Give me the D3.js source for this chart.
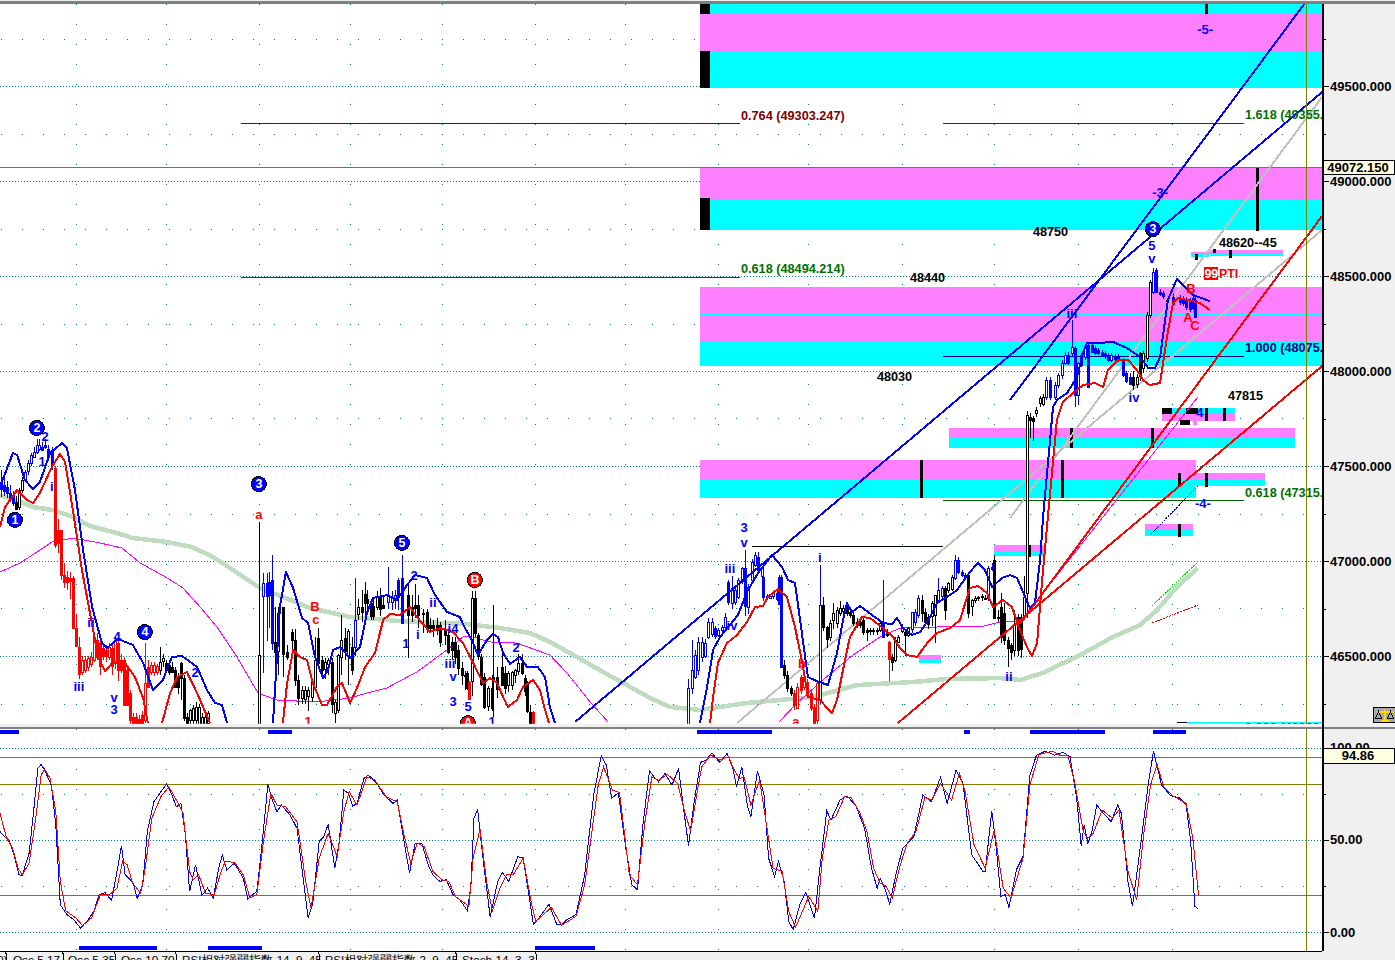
<!DOCTYPE html>
<html><head><meta charset="utf-8">
<script src="https://cdn.jsdelivr.net/npm/d3@7/dist/d3.min.js"></script>
<style>html,body{margin:0;padding:0;background:#f0f0f0;overflow:hidden}svg{display:block;shape-rendering:crispEdges}text{font-family:"Liberation Sans",Arial,sans-serif}</style>
</head><body><svg id="c" width="1395" height="960"></svg>
<script>
// ---------- data: [bar, price] overlays ----------
const upperBlue=[
[[0,47390],[4.3,47568],[5.7,47558],[8.3,47426],[11,47379],[13.3,47416],[16.7,47568],[20.7,47621],[22.3,47595],[25,47374],[27.7,47058],[30.7,46758],[34,46568],[35.7,46542],[39.3,46590],[44.3,46558],[47.7,46463],[51,46321],[54.3,46374],[57.3,46495],[60.7,46500],[65.7,46442],[69,46321],[71.7,46253],[74,46242],[75.7,46147]],
[[91,46147],[93.3,46758],[95.3,46942],[97.7,46858],[100.7,46700],[102.7,46674],[105,46495],[107.7,46384],[109.3,46426],[111,46532],[113.3,46547],[116.7,46490],[120,46547],[122.3,46726],[124.3,46805],[129,46821],[132.3,46795],[135.7,46874],[138.3,46926],[142.3,46911],[145,46821],[149,46732],[153.3,46705],[155,46647],[157.3,46584],[159.3,46505],[162.3,46584],[164.3,46616],[166,46600],[167.7,46516],[170,46458],[173.3,46495],[175.7,46442],[179.3,46442],[181.7,46389],[183.3,46232],[185,46147]],
[[233.3,46147],[235.7,46337],[237.7,46532],[240,46600],[243.3,46663],[246,46716],[249,46837],[252.7,46937],[257.3,47032],[260.7,46968],[262.7,46900],[265,46884],[267.3,46621],[269.3,46389],[272.3,46368],[276,46347],[279,46516],[281,46689],[282.3,46779],[284,46732],[286.7,46763],[289.3,46732],[294.3,46674],[297.3,46668],[299,46700],[301,46647],[304,46611],[306.7,46626],[310,46705],[312.3,46779],[315.7,46811],[319,46847],[323.3,46942],[326,46990],[328.3,46953],[330.7,46863],[334,46911],[336.7,46926],[339,46911],[341,46837],[343.3,46753],[345,46779],[346.7,47005],[347.7,47232],[351,47810],[352.3,47847],[355.7,47884],[359,47968],[361,48095],[362.3,48147],[365.7,48147],[371,48153],[375.7,48121],[380,48074],[382.7,48016],[385,48016],[386.7,48074],[389.3,48374],[392.3,48484],[394.3,48453],[397.7,48400],[403.3,48368]]
];
const lowerRed=[
[[0,47179],[1.7,47284],[5.7,47374],[9,47321],[11,47305],[13.3,47358],[17.3,47495],[20,47563],[21.7,47521],[24.3,47268],[27.3,46953],[30,46726],[32.7,46495],[35,46421],[37.7,46468],[41.7,46463],[45,46389],[47.7,46279],[49.3,46147]],
[[54,46147],[56.7,46305],[59,46389],[62.3,46416],[65.7,46305],[70,46147]],
[[94.3,46147],[95.7,46358],[97.7,46532],[100,46495],[102.3,46479],[104.3,46358],[107.3,46242],[109,46242],[112.3,46337],[114,46358],[116.7,46253],[119,46332],[121.7,46442],[125,46516],[127.7,46689],[130,46721],[133.3,46716],[136.7,46758],[139,46705],[143.3,46626],[146.7,46647],[151,46626],[154.3,46568],[157.3,46479],[159.3,46411],[161,46358],[163.3,46384],[165.7,46358],[167.7,46284],[169.3,46232],[172.3,46268],[174.3,46337],[177.7,46374],[180,46321],[181.7,46216],[183,46147]],
[[236.7,46147],[237.7,46284],[239.3,46463],[242.3,46568],[245.7,46611],[249,46679],[251.7,46758],[254.3,46763],[256,46811],[259.3,46853],[262.3,46811],[265,46653],[267.7,46442],[269.3,46284],[273.3,46268],[277.3,46200],[279,46268],[281,46426],[283.3,46600],[287.3,46705],[290,46700],[294.3,46647],[297.7,46600],[300,46542],[302.3,46505],[305.7,46495],[309.3,46574],[312.3,46621],[316.7,46647],[320,46689],[323.3,46858],[326,46868],[329,46832],[331,46758],[334.3,46795],[337.3,46758],[340,46637],[342.3,46547],[344,46500],[345.7,46568],[347.3,46884],[349.3,47232],[352.3,47742],[354.3,47837],[357.7,47884],[361,47926],[365,47937],[367.7,47916],[369.3,48005],[372.7,48058],[376,48058],[379,48005],[381,47953],[383.3,47926],[386.7,47937],[389,48179],[391,48358],[392.7,48384],[395.7,48374],[400,48358],[403.3,48321]]
];
const greenAverage=[[0,47347],[6.7,47311],[11,47284],[17.7,47268],[24.3,47232],[30,47184],[39,47147],[44.3,47121],[55.7,47100],[64,47074],[71,47021],[77.7,46953],[86.7,46858],[94.3,46811],[103.3,46753],[116.7,46705],[133.3,46684],[155.7,46668],[166.7,46647],[176.7,46621],[183.3,46574],[192.3,46495],[201,46416],[207.7,46358],[216.7,46279],[223.3,46232],[233.3,46216],[249,46253],[271,46284],[285.7,46347],[304.3,46363],[315.7,46379],[333.3,46384],[340,46374],[347.7,46411],[360,46505],[371,46600],[380,46663],[385.7,46742],[392.3,46863],[399.3,46963]];
const magentaAverage=[
[[0,46942],[6.7,46990],[12.3,47047],[17.3,47100],[24.3,47121],[33.3,47095],[40.7,47068],[46.7,46990],[55.7,46911],[61,46858],[66.7,46758],[72.3,46653],[79,46495],[86,46305],[92.3,46268],[105.7,46258],[116.7,46279],[122.3,46305],[129,46332],[139,46416],[149,46532],[154.3,46600],[156.7,46605],[163.3,46574],[172.3,46568],[183.3,46505],[189,46411],[196.7,46258],[202.7,46153]],
[[259.7,46153],[265.7,46253],[274.3,46374],[284.3,46505],[293.3,46600],[300,46647],[313.3,46653],[326.7,46653],[333.3,46679],[340,46679],[399.3,47863]]
];
// ---------- data: trend lines ----------
const blueTrends=[[[336.7,47847],[435,49937]],[[191.7,46153],[440.7,49468]]];
const redTrends=[[[299.3,46147],[440.7,48026]],[[340,46669],[440.7,48816]]];
const grayTrends=[[[336.7,47226],[440.7,49442]],[[245.7,46147],[440.7,48742]]];
const blackSegment=[[250.7,47074],[314.3,47074]];
const thinBlue=[[383.7,47142],[399.3,47395]];
const thinGreen=[[384,46763],[399.3,46995]];
const thinRed=[[384,46674],[399.3,46768]];
// ---------- data: candles [bar, open, high, low, close] ----------
const blackCandles=[
[5.5,47312,47340,47270,47277],[6.4,47283,47385,47270,47373],[7.3,47373,47440,47360,47426],
[53.4,46426,46550,46400,46470],[54.4,46470,46510,46440,46487],[55.4,46461,46480,46420,46426],[56.4,46452,46470,46400,46417],[57.4,46444,46470,46410,46417],[58.4,46426,46440,46330,46339],[59.4,46391,46410,46300,46339],[60.4,46461,46470,46270,46382],[61.4,46382,46400,46160,46172],[62.4,46180,46200,46120,46145],[63.4,46163,46220,46120,46215],[64.4,46163,46240,46120,46225],[65.4,46163,46260,46120,46233],[66.4,46145,46250,46120,46233],[67.4,46145,46200,46120,46180],[68.4,46145,46190,46120,46180],[69.4,46145,46210,46120,46198],
[86.4,46100,47207,46100,46505],[91.7,46575,46760,46420,46523],[92.8,46523,46760,46400,46724],[94.4,46760,46760,46390,46514],[95.6,46520,46560,46480,46495],[97.2,46628,46640,46500,46584],[98.3,46584,46640,46340,46374],[99.4,46374,46400,46240,46277],[100.6,46277,46340,46250,46320],[101.7,46270,46340,46250,46320],[102.8,46287,46335,46210,46320],[103.9,46285,46360,46260,46365],[105,46339,46600,46320,46479],[106.1,46593,46650,46440,46461],[107.2,46477,46500,46380,46426],[108.3,46435,46490,46380,46470],[109.4,46461,46490,46400,46480],[110.6,46470,46490,46200,46251],[111.7,46200,46270,46150,46260],[112.8,46216,46510,46200,46505],[113.6,46497,46715,46400,46584],[115,46593,46650,46480,46523],[116.1,46497,46640,46350,46630],
[117.2,46549,46600,46400,46426],[119.5,46725,46800,46690,46760],[120.6,46760,46850,46680,46733],[121.7,46825,46890,46700,46777],[122.5,46800,46850,46720,46780],[123.6,46777,46800,46690,46707],[124.5,46762,46800,46690,46707],[125.6,46760,46840,46740,46812],[126.7,46812,46860,46710,46751],[127.8,46768,46820,46750,46751],
[136.1,46821,46880,46490,46716],[137.3,46760,46820,46680,46716],[138.4,46768,46880,46700,46751],[139.5,46768,46820,46650,46716],[141.1,46725,46750,46620,46720],[142.3,46733,46750,46620,46646],[143.4,46663,46700,46620,46646],[144.5,46663,46690,46600,46646],[145.6,46663,46700,46610,46637],[146.7,46663,46680,46550,46575],[148.4,46640,46690,46560,46610],[149.5,46610,46640,46510,46523],[150.6,46575,46600,46480,46532],[151.7,46575,46600,46460,46497],[152.8,46532,46560,46400,46435],[153.9,46435,46470,46350,46400],[155,46400,46420,46320,46398],[155.8,46410,46420,46320,46330],
[157.5,46365,46840,46290,46804],[158.4,46804,46840,46600,46620],[159.5,46610,46620,46480,46497],[160.4,46497,46510,46340,46356],[161.5,46391,46410,46220,46233],[162.8,46233,46340,46210,46330],[163.9,46330,46400,46210,46225],[164.5,46390,46768,46180,46372],[165.6,46391,46440,46280,46330],[167.2,46444,46540,46340,46348],[168.3,46409,46450,46300,46330],[169.5,46348,46420,46310,46409],[170.6,46348,46420,46320,46418],[171.7,46400,46430,46360,46426],[172.8,46418,46510,46400,46461],[173.9,46461,46510,46400,46409],[175,46383,46400,46290,46313],[175.6,46356,46370,46200,46207],[176.7,46207,46240,46140,46146],
[261.5,46453,46480,46380,46400],[262.5,46400,46420,46310,46330],[263.6,46330,46340,46290,46304],
[274.5,46768,46810,46630,46654],[275.6,46654,46660,46540,46593],[276.7,46600,46690,46580,46672],[277.8,46691,46780,46640,46726],[278.9,46672,46760,46650,46742],[280,46725,46790,46710,46751],[281.1,46733,46770,46720,46751],[282.2,46751,46765,46710,46725],[283.4,46733,46745,46700,46716],[284.5,46716,46730,46660,46672],[285.6,46681,46700,46650,46663],[286.7,46681,46700,46650,46663],[287.8,46689,46700,46610,46628],[288.9,46637,46650,46580,46628],[290,46637,46650,46610,46630],[291.1,46637,46650,46610,46630],[292.2,46637,46650,46610,46630],[293.4,46637,46690,46625,46672],
[295.6,46628,46640,46600,46610],[297.5,46496,46510,46420,46470],[298.4,46479,46600,46470,46584],[299.5,46575,46610,46570,46602],[300.6,46628,46670,46620,46646],[301.7,46628,46640,46500,46610],[302.8,46610,46655,46600,46646],
[307.2,46795,46820,46680,46725],[308.4,46733,46745,46660,46681],[309.5,46707,46720,46640,46672],[310.6,46707,46790,46660,46777],[311.7,46716,46821,46567,46821],[315,46856,46870,46690,46742],[316.1,46847,46890,46830,46882],[317.2,46856,46925,46840,46917],[322.8,46926,46935,46700,46725],[323.9,46763,46800,46710,46795],[325,46795,46815,46780,46805],[326.1,46805,46815,46790,46810],[327.2,46810,46825,46790,46815],[328.3,46805,46820,46795,46805],[331.5,47005,47030,46698,46698],[332.6,46700,46740,46680,46707],[333.7,46760,46830,46570,46602],[334.8,46725,46780,46560,46584],[335.9,46584,46600,46440,46540],[337,46558,46570,46480,46523],[338.1,46531,46740,46500,46663],[339.2,46707,46720,46500,46531],[340.4,46707,46720,46490,46540],[341.5,46707,46920,46690,46812],
[342.2,46832,47790,46700,47769],[343.3,47760,47780,47650,47742],[344.4,47752,47765,47630,47735],[345.5,47778,47810,47760,47795],[346.6,47830,47870,47810,47856],[347.7,47830,47880,47815,47865],
[377.8,47970,48000,47900,47927],[378.9,47935,47985,47910,47970],[380,48093,48100,47950,47970],[381,48015,48105,47990,48093],[382.2,48067,48310,48050,48295],[383.3,48295,48480,48280,48470],[388.9,48374,48385,48360,48370]
];
const blueCandles=[
[0.5,47417,47480,47338,47382],[1.5,47400,47450,47340,47370],[2.5,47390,47420,47330,47360],[3.5,47360,47400,47310,47335],[4.5,47350,47370,47290,47310],
[8.2,47430,47480,47420,47470],[9.2,47470,47530,47455,47514],[10.2,47514,47570,47500,47558],[11.2,47550,47600,47540,47575],[12.2,47575,47640,47565,47610],[13.1,47590,47640,47580,47610],[14.1,47600,47625,47585,47585],[15.1,47610,47640,47590,47600],[16.1,47590,47610,47550,47555],[17.2,47585,47600,47480,47505],
[87.8,46812,46935,46409,46882],[88.9,46882,46935,46580,46812],[89.8,46890,46940,46650,46820],[90.6,46900,47030,46530,46567],
[118.4,46549,46910,46500,46690],[129.5,46786,46970,46750,46821],[130.6,46786,46840,46740,46812],[131.7,46795,46850,46750,46821],[132.8,46900,46910,46740,46812],[133.9,46909,47030,46672,46672],
[229.5,46058,46380,46058,46330],[230.6,46330,46584,46300,46426],[231.7,46391,46530,46380,46505],[232.8,46426,46600,46400,46575],[233.9,46497,46600,46470,46575],[235,46497,46590,46490,46567],[236.1,46602,46700,46590,46681],[237.2,46620,46700,46600,46681],[238.4,46645,46660,46590,46602],[239.5,46610,46650,46600,46637],[240.6,46637,46665,46620,46654],[241.7,46654,46725,46640,46707],[242.8,46891,46900,46770,46786],[243.9,46777,46920,46750,46856],[245,46786,46860,46770,46847],[246.1,46812,46910,46800,46900],[247.2,46891,46970,46880,46961],[248.4,46961,47060,46710,46760],[249.5,46760,46880,46720,46865],[250.6,46900,47010,46890,46996],[251.7,46979,47050,46970,47032],[252.8,47023,47050,46930,46953],[253.9,46917,46970,46900,46961],[254.5,46917,46925,46790,46812],[255.6,46810,46825,46800,46815],[256.7,46810,46825,46800,46818],[257.8,46815,46835,46800,46830],[258.9,46830,46840,46790,46800],[259.7,46917,46925,46770,46777],[260.4,46917,46925,46444,46444],
[273.4,46269,46980,46250,46768],[294.5,46681,46900,46595,46602],[303.9,46646,46665,46620,46733],[305,46680,46750,46660,46733],[306.1,46716,46820,46700,46804],[312.8,46795,46910,46780,46847],[313.9,46812,46870,46790,46856],[318.4,46909,47030,46900,47005],[319.5,47005,47020,46930,46944],[320.6,46944,46955,46915,46926],[321.7,46926,46935,46905,46916],[329.5,46804,46975,46790,46961],[330.6,46970,46990,46950,46961],
[348.8,47865,47970,47850,47953],[349.9,47953,47970,47850,47865],[351.6,47865,47940,47850,47927],[352.7,47927,47990,47910,47979],[353.9,47979,48060,47960,48041],[355,48041,48100,48030,48085],[356.1,48085,48100,48030,48041],[357.2,48094,48270,48080,48128],[358.3,48120,48130,47810,47874],[359.4,47874,48050,47820,48041],[360.5,48085,48095,48020,48032],[361.6,48075,48140,48060,48128],[362.7,48137,48150,47918,47918],[363.9,48137,48145,48095,48102],[365,48120,48130,48085,48094],[366.1,48111,48120,48085,48094],[367.2,48102,48110,48075,48085],[368.3,48094,48105,48065,48076],[369.4,48085,48095,48045,48058],[370.5,48058,48095,48050,48085],[371.6,48076,48090,48055,48067],[372.7,48076,48090,48050,48058],[374.4,48058,48070,47970,47979],[375.5,47988,48000,47935,47944],[376.6,47970,47990,47925,47935],
[384.4,48418,48540,48405,48523],[385.5,48532,48540,48410,48418],[386.6,48418,48430,48395,48405],[387.7,48410,48420,48380,48395],[391.1,48392,48410,48350,48356],[393.3,48385,48400,48350,48362],[394.4,48380,48395,48340,48360],[395.5,48375,48390,48320,48340],[396.6,48370,48385,48310,48330],[397.7,48383,48400,48320,48330],[398.5,48374,48390,48280,48286]
];
const redCandles=[
[18.3,47487,47500,47070,47084],[19.4,47163,47220,47040,47093],[20.4,47163,47165,46900,46926],[21.4,46926,46990,46860,46891],[22.4,46917,46950,46850,46891],[23.4,46909,46940,46800,46891],[24.4,46909,46920,46640,46645],[25.4,46645,46720,46545,46549],[26.4,46549,46600,46380,46409],[27.4,46417,46500,46400,46479],[28.4,46426,46500,46410,46479],[29.4,46440,46500,46420,46487],[30.4,46460,46520,46440,46497],[31.4,46479,46620,46470,46593],[32.4,46584,46620,46480,46496],[33.4,46567,46600,46400,46444],[34.4,46540,46570,46480,46497],[35.4,46530,46560,46470,46497],[36.4,46497,46570,46480,46549],[37.4,46540,46570,46400,46444],[38.4,46461,46600,46430,46584],[39.4,46567,46590,46370,46426],[40.4,46479,46510,46410,46426],[41.4,46479,46495,46240,46242],[42.4,46426,46440,46240,46242],[43.4,46303,46320,46120,46163],[44.4,46180,46200,46120,46145],[45.4,46180,46200,46120,46145],[46.4,46170,46190,46120,46145],[47.4,46190,46210,46120,46145],[48.4,46160,46567,46150,46356],[49.4,46444,46480,46330,46339],[50.4,46417,46470,46400,46452],[51.4,46417,46470,46395,46452],[52.4,46417,46460,46400,46450],
[156.5,46365,46370,46270,46275],[177.6,46207,46210,46140,46145],
[264.7,46304,46320,46215,46242],[265.8,46231,46360,46220,46339],[266.9,46391,46400,46300,46321],[268,46339,46400,46320,46391],[269.1,46365,46380,46280,46295],[270.2,46304,46320,46210,46225],[271.3,46233,46250,46130,46150],[272.5,46163,46370,46140,46356],[296.5,46575,46580,46370,46488]
];
// ---------- data: zones [bar0, bar1, priceTop, priceBottom] ----------
const magentaZones=[[233.3,440.7,49879,49684],[233.3,440.7,49074,48900],[233.3,440.7,48442,48153],[316.3,431.7,47700,47647],[233.3,398.7,47532,47426],[398.7,421.7,47463,47432],[387.3,411.7,47774,47737],[381.7,397.7,47195,47163],[331.3,348.7,47084,47053],[306.3,313.7,46505,46484],[403.3,427.7,48637,48621],[397,407.7,48627,48615],[397.7,399,47737,47715]];
const cyanZones=[[233.3,440.7,49932,49879],[233.3,440.7,49684,49489],[233.3,440.7,48900,48742],[233.3,440.7,48153,48026],[233.3,440.7,48305,48295],[316.3,431.7,47647,47595],[233.3,398.7,47426,47332],[398.7,421.7,47432,47395],[387.3,411.7,47805,47774],[381.7,397.7,47163,47132],[331.3,348.7,47053,47026],[306.3,313.7,46484,46463],[403.3,427.7,48621,48605],[397,403,48615,48600],[395.7,440.7,46153,46142]];
const blackBlocks=[[233.3,236.7,49932,49879],[233.3,236.7,49684,49489],[233.3,236.7,48910,48742],[387.3,390.7,47805,47774],[395.3,399.3,47805,47774],[393.3,396.7,47742,47715],[392.3,395.7,46153,46148]];
const blackTicks=[[419.3,49068,48737],[402.3,49932,49879],[307.3,47532,47332],[354.3,47532,47332],[384.3,47700,47595],[357.3,47700,47595],[393.3,47463,47389],[402.3,47463,47389],[393.3,47195,47126],[343.3,47084,47021],[402.3,47805,47737],[408.3,47805,47737],[399,48615,48585],[405,48640,48620],[410.3,48637,48595]];
// ---------- data: Fibonacci lines ----------
const fibLines=[[80.3,246.7,49303,"#800000"],[80.3,246.7,48494,"#006400"],[314.3,414.7,49305,"#333"],[314.3,414.7,48079,"#000080"],[314.3,414.7,47321,"#006400"]];
const fibLabels=[["0.764 (49303.247)",247,49342,"#800000"],["0.618 (48494.214)",247,48537,"#007000"],["1.618 (49355.",415,49347,"#007000"],["1.000 (48075.",415,48121,"#000080"],["0.618 (47315.",415,47358,"#007000"],["0.382 (46880.",415,46120,"#000080"]];
const priceNotes=[["48750",344.3,48732],["48440",303.3,48490],["48030",292.3,47968],["48620--45",406.3,48674],["47815",409.3,47868]];
const blueWaves=[["2",15,47653],["1",14,47526],["i",17.3,47390],["iii",26.3,46337],["v",38,46279],["3",38,46216],["ii",30.3,46674],["4",39,46605],["2",65,46411],["1",135.3,46568],["i",139.3,46611],["2",138,46926],["ii",144.3,46784],["i4",151,46647],["iii",150,46463],["v",151,46390],["3",151,46258],["5",156,46232],["2",172,46547],["1",164,46153],["3",248,47174],["v",248,47100],["iii",243.3,46963],["iv",244,46663],["i",273.3,47021],["ii",336.3,46390],["iii",357.3,48305],["5",384,48663],["v",384,48590],["iv",378,47858],["-5-",401.7,49795],["-3-",386.7,48942],["-4-",401,47305],["4",400,47779]];
const redWaves=[["a",86.3,47247],["B",105,46763],["c",105.3,46690],["a",265.3,46153],["b",267.3,46463],["B",397,48432],["A",396,48279],["C",398.3,48237],["1",102.7,46153]];
const blueBadges=[["1",5,47216],["2",12.3,47700],["4",48.3,46626],["3",86.3,47405],["5",134,47095],["3",384.3,48747]];
const redBadges=[["B",158.3,46900],["A",156,46147]];
// ---------- data: stochastic [bar, value] ----------
const stochK=[[0,54.4],[1.5,51.7],[3,49.9],[4.5,42.7],[6.3,31],[7.4,30.6],[9.7,42.7],[11.2,65.2],[12.6,88.6],[13.7,90.8],[14.9,87.7],[17.1,79.6],[18.6,58],[20.1,14.8],[22.3,9.4],[24.6,6.7],[26.8,2.2],[29,5.8],[31.3,11.2],[33,20.2],[35,21.4],[37.2,17.1],[39,32.8],[40.5,46.8],[41.7,31],[43.5,28.3],[44.6,25.6],[45.7,18],[47.6,25.6],[49.1,54.4],[51.3,70.6],[53.6,76],[55.5,80.2],[57.3,74.2],[58.8,67.9],[60.3,69.7],[61.8,52.6],[63.2,22],[65.2,36.4],[67.3,19.8],[69.2,23.8],[71.1,18.4],[72.9,34.6],[74.1,41.8],[75.6,33.7],[78.1,37.3],[81.1,29.2],[82.6,18],[85.6,22],[87.1,43.6],[89.3,80],[90.8,71.5],[92.3,65.2],[93.8,68.8],[96.7,63.4],[99,56.2],[101.2,27.4],[102.7,7.9],[104.2,14.8],[106.4,49],[107.9,51.7],[109.4,58.4],[111.6,34.6],[113.1,49],[114.6,76.9],[116.1,75.1],[117.6,68.3],[119,69.7],[121.3,83.2],[122.8,85],[125.7,80.5],[128,74.2],[131,69.7],[132.4,71.5],[134.7,49],[136.5,31.9],[138.4,48.1],[140.6,48.1],[142.9,35.5],[144.3,31],[146.6,27.4],[148.8,28.3],[151,20.2],[153.3,17.5],[155.8,11.5],[157,25.6],[158,61.6],[159.2,66.5],[161,40],[163.4,8.1],[165.9,27.4],[167.4,32.3],[169.6,27.4],[172.6,40.9],[174.4,40],[176.3,20.2],[177.8,4],[180.1,8.5],[183,15.1],[185.6,4],[187.2,4],[189,6.7],[192,9.4],[194.9,31],[197.9,74.2],[200.4,95.5],[202.1,90.5],[203.9,72.4],[206.1,75.5],[208.3,49],[210.6,25.6],[212.5,22.9],[214.3,58],[216.5,87.4],[218,84.1],[219.5,81.4],[221.7,85.9],[224,79.6],[226.2,88.6],[227.7,68.8],[229.5,46.8],[231.4,70.6],[233.5,91.9],[235.4,93.2],[237.3,97.1],[239.9,91.9],[242.4,96.8],[244.3,88.6],[245.5,78.7],[247.3,89.5],[249.2,67.9],[250.3,62.5],[252.5,87.4],[254.7,74.2],[256.2,40],[258.2,30.1],[259.5,38.2],[261.4,27.4],[262.9,5.8],[264.4,1.3],[266.6,14.8],[268.6,21.4],[271.5,7.6],[273.3,34.6],[275.6,65.6],[277,60.7],[280,71.5],[282.3,73.7],[285.2,68.8],[288.2,56.2],[290.5,34.6],[292.4,23.8],[293.4,29.2],[294.9,23.8],[296.6,15.1],[298.6,31],[300.9,45.4],[304.6,51.7],[307.6,74.2],[310.5,70.6],[313.5,83.8],[315.7,69.7],[318.7,87.7],[321,80.5],[323.9,41.8],[327.7,32.8],[328.4,32.8],[330.6,65.6],[332.1,45.4],[333.6,19.3],[335.1,20.2],[336.3,13.3],[338.8,33.7],[341,40.9],[343.3,85],[345.5,95.9],[348.5,98],[351.5,95.9],[354.4,97.3],[356.7,95],[358.9,72.4],[360.4,46.8],[361.4,58],[362.6,48.1],[364.1,55.3],[365.6,68.8],[367.8,64.3],[370.4,59.8],[372.6,68.8],[373.8,64.3],[376,27.4],[377.5,13.9],[380.5,50.8],[382.7,79.6],[384.5,98],[387.2,79.6],[390.2,73.9],[393.1,72.8],[395.4,68.8],[396.9,49],[398.3,13.9],[399.5,12.4]];
const stochD=[[0,64.3],[2.2,50.8],[4.2,45.4],[6,34.6],[7.4,31],[9.7,37.3],[11.9,61.6],[13.7,85],[14.9,88.3],[16.7,83.2],[18.6,65.2],[20.1,27.4],[21.9,11.5],[25.3,7.6],[27.5,3.6],[30.5,7.6],[33.5,20.2],[36.5,20.2],[39,23.8],[40.9,38.6],[42.4,36.4],[44.2,26.5],[46.9,21.1],[48.4,34.6],[50.6,61.6],[53.6,73.3],[56.3,78.7],[58.8,71.5],[61,64.3],[63.2,32.8],[64.4,28.3],[66.2,31],[68.5,21.1],[71.4,20.2],[73.7,32.8],[75.1,38.2],[78.1,37.8],[81.1,31],[83.3,18.4],[85.6,20.2],[87.8,49],[90.3,75.1],[92.3,68.8],[95.2,67.9],[99,59.8],[101.9,27.4],[103.7,13],[106.4,40],[109.4,53.5],[112.4,40.9],[114.6,65.2],[116.4,76],[119,68.8],[122.3,84.1],[125,82.3],[128.7,73.3],[132.4,70.6],[134.7,52.6],[136.9,37.3],[139.1,48.1],[141.4,46.3],[144.3,32.8],[147.3,28.3],[149.6,27.4],[151.8,19.3],[156.3,13.9],[157.7,40],[160,55.7],[162.2,27.4],[164.1,11.5],[166.7,23.8],[168.9,31],[171.1,31],[174.4,40],[177,16.6],[178.6,5.8],[183.8,13.3],[187.2,3.6],[192,8.5],[194.9,25.6],[199.4,79.6],[201.2,89.5],[204.2,76.9],[206.5,75.5],[209.8,31],[212.5,25.6],[215,59.8],[217.3,84.1],[219.5,82.3],[222.5,85.4],[225.9,80.5],[228.4,64.3],[230.2,54.8],[232.4,76],[233.9,89.5],[236.9,95.9],[239.9,93.2],[242.8,95],[245.1,86.8],[246.6,83.2],[248,84.1],[250.3,68.8],[253.2,82.3],[255.5,58],[257.7,34.6],[260.7,32.8],[262.9,11.2],[265.2,2.5],[269.6,19.3],[272.6,11.2],[274.1,40],[276.3,60.7],[278.6,62.5],[281.5,73.3],[283.7,72.8],[286.7,64.3],[289,54.4],[291.2,34.6],[293.4,26.5],[295.4,24.7],[297.4,18.4],[300.1,36.4],[302.4,48.1],[305.3,54.4],[308.3,72.8],[310.5,71.5],[313.5,80.5],[317.2,71.5],[319.8,85.9],[321.7,76],[324.7,47.2],[328.4,34.6],[331.4,55.3],[334.4,23.8],[337,18.4],[341,40],[343.3,79.6],[346.3,96.2],[350.7,98],[353.7,95.5],[355.9,95.9],[358.2,81.4],[361.1,54.4],[362.6,50.8],[364.4,53.5],[367.4,66.1],[370.8,61.6],[373,66.1],[376,32.8],[378.9,17.5],[381.2,52.6],[383.5,79.6],[385.7,90.8],[387.9,78.7],[390.9,73.9],[395.4,69.7],[397.6,50.8],[399.5,20.2]];
const oscLevels=[95,80,20];
const topSignals=[[0,6.3],[89.3,97.3],[232.3,257.3],[321.3,323.3],[343.3,368.3],[384.3,395.3]];
const bottomSignals=[[26.3,52.3],[69.3,87.3],[178.3,198.3]];
// ---------- data: axes, grid, tabs ----------
const priceTicks=[49500,49000,48500,48000,47500,47000,46500];
const priceMinor=[49750,49250,48750,48250,47750,47250,46750,46250];
const oscTicks=[100,50,0];
const oscMinor=[75,25];
const gridBars=[25.3,55.3,86.3,116.7,147.3,178.3,208.3,239.3,269.3,300.7,331.3,359.3,390.7];
const lastPrice=49072.15;
const lastOsc=94.86;
const timeBar=435.3;
const tabLabels=[["0)",-1],["Osc 5.17",4.3],["Osc 5.35",22.7],["Osc 10.70",40.3],["RSI相对强弱指数 14, 9, 45",60.7],["RSI相对强弱指数 2, 9, 45",108.3],["Stoch 14, 3, 3",154]];
const tabSeps=[1.7,20.7,38,58.3,106,151.7,178.3];

// ---------- scales ----------
const svg=d3.select("#c");
const x=d3.scaleLinear().domain([0,440.67]).range([0,1322]);
const y=d3.scaleLinear().domain([49500,46500]).range([86,656]);
const yo=d3.scaleLinear().domain([0,100]).range([932,747.5]);
const defs=svg.append("defs");
defs.append("clipPath").attr("id","main").append("rect").attr("x",0).attr("y",y(49932)).attr("width",x(440.67)).attr("height",y(46143)-y(49932));
defs.append("clipPath").attr("id","osc").append("rect").attr("x",0).attr("y",729).attr("width",x(440.67)).attr("height",222);

svg.append("rect").attr("width",1395).attr("height",960).attr("fill","#f0f0f0");
svg.append("rect").attr("x",0).attr("y",4).attr("width",x(440.67)).attr("height",947).attr("fill","#fff");
const gm=svg.append("g").attr("clip-path","url(#main)");
const go=svg.append("g").attr("clip-path","url(#osc)");
const teal="#008080";

// grid
[[gm,priceTicks,priceMinor,y,4,724],[go,[100,50,0],oscMinor,yo,729,950]].forEach(([g,maj,min,sc,t,b])=>{
  g.selectAll(null).data(maj).join("line").attr("x1",0).attr("x2",1322).attr("y1",d=>Math.round(sc(d))+.5).attr("y2",d=>Math.round(sc(d))+.5)
    .attr("stroke",teal).attr("stroke-dasharray","1 2");
  g.selectAll(null).data(min).join("line").attr("x1",1).attr("x2",1322).attr("y1",d=>Math.round(sc(d))+.5).attr("y2",d=>Math.round(sc(d))+.5)
    .attr("stroke",teal).attr("stroke-dasharray","1 20");
  g.selectAll(null).data(gridBars).join("line").attr("x1",d=>Math.round(x(d))+.5).attr("x2",d=>Math.round(x(d))+.5).attr("y1",t).attr("y2",b)
    .attr("stroke",teal).attr("stroke-dasharray","1 19");
});

// zones
const zone=(data,col)=>gm.selectAll(null).data(data).join("rect").attr("x",d=>x(d[0])).attr("width",d=>x(d[1])-x(d[0])).attr("y",d=>y(d[2])).attr("height",d=>y(d[3])-y(d[2])).attr("fill",col);
zone(magentaZones,"#ff80ff");
zone(cyanZones,"#00ffff");
zone(blackBlocks,"#000");
gm.selectAll(null).data(blackTicks).join("line").attr("x1",d=>x(d[0])).attr("x2",d=>x(d[0])).attr("y1",d=>y(d[1])).attr("y2",d=>y(d[2])).attr("stroke","#000").attr("stroke-width",3);

// last-price line
gm.append("line").attr("x1",0).attr("x2",1322).attr("y1",Math.round(y(lastPrice))+.5).attr("y2",Math.round(y(lastPrice))+.5).attr("stroke","#808000").attr("stroke-width",1);

// fib lines
gm.selectAll(null).data(fibLines).join("line").attr("x1",d=>x(d[0])).attr("x2",d=>x(d[1])).attr("y1",d=>Math.round(y(d[2]))+.5).attr("y2",d=>Math.round(y(d[2]))+.5).attr("stroke",d=>d[3]);

// overlays
const ln=d3.line().x(d=>x(d[0])).y(d=>y(d[1]));
const path=(g,d,col,w,dash)=>g.append("path").attr("d",ln(d)).attr("fill","none").attr("stroke",col).attr("stroke-width",w).attr("stroke-linejoin","round").attr("stroke-dasharray",dash||null);
path(gm,greenAverage,"#c0dcc0",4.5);
magentaAverage.forEach(s=>path(gm,s,"#ff00ff",1));

// trend lines below candles
grayTrends.forEach(s=>path(gm,s,"#c0c0c0",2));
path(gm,blackSegment,"#000",1);

// candles
const drawCandles=(rows,col)=>{
  const g=gm.append("g");
  g.selectAll(null).data(rows).join("line").attr("x1",d=>Math.round(x(d[0]))+.5).attr("x2",d=>Math.round(x(d[0]))+.5).attr("y1",d=>y(d[2])).attr("y2",d=>y(d[3])).attr("stroke",col);
  g.selectAll(null).data(rows).join("rect").attr("x",d=>Math.round(x(d[0]))-.5).attr("width",2)
    .attr("y",d=>Math.round(y(Math.max(d[1],d[4])))+.5).attr("height",d=>Math.max(1,Math.round(Math.abs(y(d[1])-y(d[4])))))
    .attr("fill",d=>d[4]>d[1]?"#fff":col).attr("stroke",col).attr("stroke-width",1);
};
drawCandles(blackCandles,"#000");
drawCandles(blueCandles,"#0000ff");
drawCandles(redCandles,"#ff0000");

upperBlue.forEach(s=>path(gm,s,"#0000ff",2));
lowerRed.forEach(s=>path(gm,s,"#ff0000",2));
blueTrends.forEach(s=>path(gm,s,"#0000ff",2));
redTrends.forEach(s=>path(gm,s,"#ff0000",2));
path(gm,thinBlue,"#0000ff",1,"2 1");
path(gm,thinGreen,"#00e000",1,"2 1");
path(gm,thinRed,"#e00000",1,"2 1");

// labels
const lab=(data,col,weight,size)=>gm.selectAll(null).data(data).join("text").attr("x",d=>x(d[1])).attr("y",d=>y(d[2])).attr("text-anchor","middle").attr("dominant-baseline","central").attr("fill",col).attr("font-size",size).attr("font-weight",weight).text(d=>d[0]);
lab(blueWaves,"#0000ff","bold",13);
lab(redWaves,"#ff0000","bold",13);
gm.selectAll(null).data(priceNotes).join("text").attr("x",d=>x(d[1])).attr("y",d=>y(d[2])).attr("dominant-baseline","central").attr("font-size",12.7).attr("font-weight","bold").attr("fill","#000").text(d=>d[0]);
gm.selectAll(null).data(fibLabels).join("text").attr("x",d=>x(d[1])).attr("y",d=>y(d[2])).attr("dominant-baseline","central").attr("font-size",12.7).attr("font-weight","bold").attr("fill",d=>d[3]).text(d=>d[0]);
const badge=(data,col)=>{
  gm.selectAll(null).data(data).join("circle").attr("cx",d=>x(d[1])).attr("cy",d=>y(d[2])).attr("r",7.5).attr("fill",col).attr("stroke","#000");
  lab(data,"#fff","bold",12.5);
};
badge(blueBadges,"#0000ff");
badge(redBadges,"#ff0000");
// 99PTI tag
const tagBar=401.3, tagPrice=48510;
gm.append("rect").attr("x",x(tagBar)).attr("y",y(tagPrice)-7).attr("width",14).attr("height",13).attr("fill","#ff0000");
gm.append("text").attr("x",x(tagBar)+.5).attr("y",y(tagPrice)).attr("dominant-baseline","central").attr("font-size",12.5).attr("font-weight","bold").attr("fill","#fff").text("99");
gm.append("text").attr("x",x(tagBar)+15).attr("y",y(tagPrice)).attr("dominant-baseline","central").attr("font-size",12.5).attr("font-weight","bold").attr("fill","#ff0000").text("PTI");

// lower panel
go.selectAll(null).data(oscLevels).join("line").attr("x1",0).attr("x2",1322).attr("y1",d=>Math.round(yo(d))+.5).attr("y2",d=>Math.round(yo(d))+.5).attr("stroke","#808000");
const sl=d3.line().x(d=>x(d[0])).y(d=>yo(d[1]));
go.append("path").attr("d",sl(stochK)).attr("fill","none").attr("stroke","#0000ff");
go.append("path").attr("d",sl(stochD)).attr("fill","none").attr("stroke","#ff0000");
go.selectAll(null).data(topSignals).join("rect").attr("x",d=>x(d[0])).attr("width",d=>x(d[1])-x(d[0])).attr("y",730).attr("height",4).attr("fill","#0000ff");
go.selectAll(null).data(bottomSignals).join("rect").attr("x",d=>x(d[0])).attr("width",d=>x(d[1])-x(d[0])).attr("y",946).attr("height",4).attr("fill","#0000ff");

// time cursor
svg.append("line").attr("x1",Math.round(x(timeBar))+.5).attr("x2",Math.round(x(timeBar))+.5).attr("y1",4).attr("y2",951).attr("stroke","#808000");

// frame
svg.append("rect").attr("x",0).attr("y",1).attr("width",1395).attr("height",3).attr("fill","#808080");
svg.append("rect").attr("x",0).attr("y",724).attr("width",1395).attr("height",5).attr("fill","#f0f0f0");
svg.append("rect").attr("x",0).attr("y",727).attr("width",1395).attr("height",2).attr("fill","#808080");

// axes
const axFont=g=>{g.select(".domain").remove();g.selectAll("text").attr("font-size",13).attr("font-weight","bold").attr("fill","#000").attr("font-family",'"Liberation Sans",sans-serif');g.selectAll("line").attr("stroke","#000");};
svg.append("g").attr("transform","translate(1323,0)").call(d3.axisRight(y).tickValues(priceTicks).tickSize(6).tickPadding(1).tickFormat(d3.format(".3f"))).call(axFont);
svg.append("g").attr("transform","translate(1323,0)").call(d3.axisRight(y).tickValues(priceMinor).tickSize(3).tickFormat("")).call(axFont);
svg.append("g").attr("transform","translate(1323,0)").call(d3.axisRight(yo).tickValues(oscTicks).tickSize(6).tickPadding(1).tickFormat(d3.format(".2f"))).call(axFont);
svg.append("g").attr("transform","translate(1323,0)").call(d3.axisRight(yo).tickValues(oscMinor).tickSize(3).tickFormat("")).call(axFont);
svg.append("line").attr("x1",1322.5).attr("x2",1322.5).attr("y1",4).attr("y2",960).attr("stroke","#000").attr("stroke-width",2);

// value boxes
const box=(cy,label,h)=>{
  const g=svg.append("g");
  g.append("rect").attr("x",1323.5).attr("y",Math.round(cy-h/2)+.5).attr("width",71).attr("height",h).attr("fill","#ffffe1").attr("stroke","#000");
  g.append("text").attr("x",1358).attr("y",cy+.5).attr("text-anchor","middle").attr("dominant-baseline","central").attr("font-size",13).attr("font-weight","bold").text(label);
};
box(y(lastPrice),d3.format(".3f")(lastPrice),14);
box(yo(lastOsc)-1.5,d3.format(".2f")(lastOsc),15);

// icon
const ic=svg.append("g").attr("transform","translate(1373.5,707.5)");
ic.append("rect").attr("width",22).attr("height",15).attr("fill","#a8a8a8").attr("stroke","#000");
ic.append("path").attr("d","M3 4H19M11 2V13M7 13H15").attr("stroke","#ffd800").attr("stroke-width",2).attr("fill","none");
ic.append("path").attr("d","M5 4L2 11H8ZM17 4L14 11H20Z").attr("stroke","#000").attr("fill","none");

// tab strip
svg.append("rect").attr("x",0).attr("y",951).attr("width",1395).attr("height",9).attr("fill","#f0f0f0");
svg.append("line").attr("x1",0).attr("x2",1322).attr("y1",951.5).attr("y2",951.5).attr("stroke","#000");
svg.selectAll(null).data(tabSeps).join("path").attr("d",d=>`M${x(d)} 952 Q${x(d)+3} 956 ${x(d)+1} 960`).attr("fill","none").attr("stroke","#000");
svg.selectAll(null).data(tabLabels).join("text").attr("x",d=>x(d[1])).attr("y",964).attr("font-size",d=>/[^\x00-\x7f]/.test(d[0])?11.6:11.8).attr("fill","#000").attr("font-family",d=>/[^\x00-\x7f]/.test(d[0])?'"Noto Sans CJK SC","Liberation Sans"':'"Liberation Sans"').text(d=>d[0]);
</script></body></html>
